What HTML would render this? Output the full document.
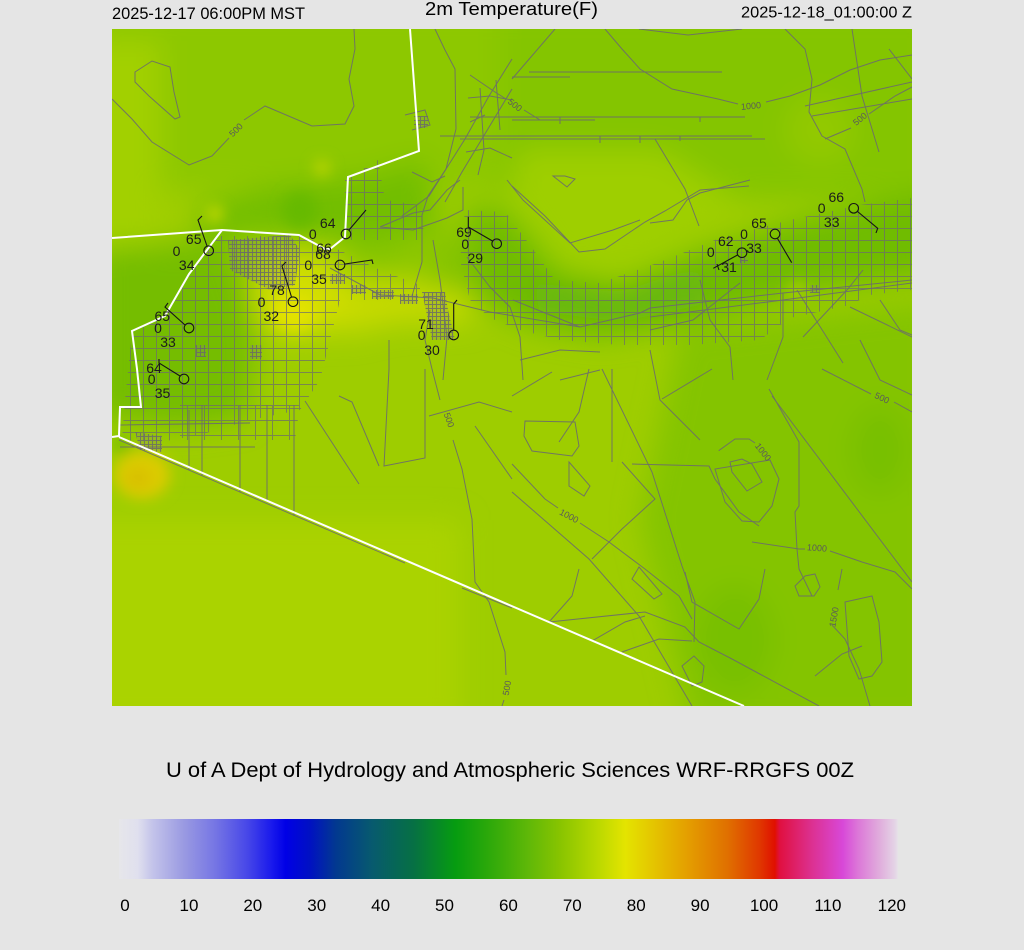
<!DOCTYPE html>
<html><head><meta charset="utf-8"><style>
html,body{margin:0;padding:0;background:#e5e5e5;}
svg{display:block;font-family:"Liberation Sans",sans-serif;}
</style></head><body>
<svg width="1024" height="950" viewBox="0 0 1024 950" xmlns="http://www.w3.org/2000/svg">
<defs>
<clipPath id="mc"><rect x="112" y="29" width="800" height="677"/></clipPath>
<filter id="bl" x="-30%" y="-30%" width="160%" height="160%"><feGaussianBlur stdDeviation="14"/></filter>
<filter id="bs" x="-50%" y="-50%" width="200%" height="200%"><feGaussianBlur stdDeviation="7"/></filter>
<pattern id="grid" width="13" height="12" patternUnits="userSpaceOnUse"><path d="M0 0.5H13M0.5 0V12" stroke="#6c6c6c" stroke-width="1" fill="none"/></pattern>
<pattern id="grid2" width="17" height="15" patternUnits="userSpaceOnUse"><path d="M0 0.5H17M0.5 0V15" stroke="#6c6c6c" stroke-width="1" fill="none"/></pattern>
<pattern id="dense" width="4" height="4" patternUnits="userSpaceOnUse"><rect width="4" height="4" fill="#808080" fill-opacity="0.25"/><path d="M0 0.5H4M0.5 0V4" stroke="#6a6a6a" stroke-width="1" fill="none"/></pattern>
<linearGradient id="cb" x1="0" x2="1" y1="0" y2="0">
<stop offset="0" stop-color="#e6e6ea"/>
<stop offset="0.024" stop-color="#e0e0ee"/>
<stop offset="0.0427" stop-color="#c4c4ea"/>
<stop offset="0.083" stop-color="#9a9ae2"/>
<stop offset="0.123" stop-color="#7676e4"/>
<stop offset="0.164" stop-color="#4848e8"/>
<stop offset="0.197" stop-color="#1818ec"/>
<stop offset="0.214" stop-color="#0000e6"/>
<stop offset="0.244" stop-color="#0010c4"/>
<stop offset="0.278" stop-color="#023890"/>
<stop offset="0.325" stop-color="#075a6e"/>
<stop offset="0.378" stop-color="#067044"/>
<stop offset="0.432" stop-color="#069c10"/>
<stop offset="0.472" stop-color="#2aa80a"/>
<stop offset="0.526" stop-color="#60b808"/>
<stop offset="0.566" stop-color="#88c400"/>
<stop offset="0.613" stop-color="#b8d800"/>
<stop offset="0.650" stop-color="#e4e400"/>
<stop offset="0.687" stop-color="#e4c400"/>
<stop offset="0.728" stop-color="#e4a000"/>
<stop offset="0.781" stop-color="#e07000"/>
<stop offset="0.822" stop-color="#e03800"/>
<stop offset="0.842" stop-color="#e01000"/>
<stop offset="0.848" stop-color="#e01040"/>
<stop offset="0.889" stop-color="#dc3090"/>
<stop offset="0.929" stop-color="#d848d8"/>
<stop offset="0.949" stop-color="#dc78d8"/>
<stop offset="0.976" stop-color="#e0acdc"/>
<stop offset="0.996" stop-color="#e4d4e6"/>
<stop offset="1" stop-color="#e6e2e8"/>
</linearGradient>
</defs>

<rect width="1024" height="950" fill="#e5e5e5"/>

<!-- header -->
<text x="112" y="19" font-size="16.5" fill="#000" textLength="193" lengthAdjust="spacingAndGlyphs">2025-12-17 06:00PM MST</text>
<text x="425" y="15" font-size="18" fill="#000" textLength="173" lengthAdjust="spacingAndGlyphs">2m Temperature(F)</text>
<text x="741" y="17.5" font-size="16" fill="#000" textLength="171" lengthAdjust="spacingAndGlyphs">2025-12-18_01:00:00 Z</text>

<!-- MAP -->
<g clip-path="url(#mc)">
<rect x="112" y="29" width="800" height="677" fill="#9ecd00"/>
<g filter="url(#bl)">
<rect x="90" y="5" width="850" height="185" fill="#8dc800"/>
<rect x="80" y="40" width="80" height="210" fill="#a2d000"/>
<rect x="500" y="5" width="440" height="195" fill="#84c500"/>
<polygon points="520,150 660,150 740,200 660,262 560,268 510,200" fill="#9ecf00"/>
<polygon points="465,205 510,212 560,272 620,285 700,250 800,220 940,188 940,275 800,292 700,322 600,338 530,326 470,296" fill="#70bc04"/>
<polygon points="530,282 620,292 700,266 700,305 620,322 540,312" fill="#66b80a"/>
<polygon points="200,205 280,185 360,178 425,160 440,232 360,242 270,234 200,236" fill="#72be00"/>
<polygon points="95,250 230,238 250,300 255,360 245,420 180,428 95,415" fill="#74bd02"/>
<ellipse cx="385" cy="255" rx="40" ry="14" fill="#84c400"/>
<ellipse cx="448" cy="262" rx="24" ry="30" fill="#86c400"/>
<polygon points="320,280 400,284 470,294 472,322 400,322 340,336" fill="#c6da00"/>
<ellipse cx="300" cy="295" rx="45" ry="42" fill="#d2de00"/>
<rect x="80" y="520" width="380" height="210" fill="#aad300"/>
<polygon points="680,330 940,300 940,730 690,730 640,520" fill="#84c400"/>
<ellipse cx="880" cy="450" rx="30" ry="45" fill="#78c000"/>
<ellipse cx="735" cy="640" rx="40" ry="55" fill="#78c000"/>
<ellipse cx="820" cy="130" rx="35" ry="35" fill="#92c900"/>
</g>
<g filter="url(#bs)">
<ellipse cx="294" cy="312" rx="22" ry="18" fill="#e2e200"/>
<ellipse cx="142" cy="475" rx="28" ry="24" fill="#dccc00"/>
<ellipse cx="138" cy="478" rx="14" ry="11" fill="#d8c000"/>
<circle cx="122" cy="445" r="9" fill="#74be00"/>
<circle cx="215" cy="214" r="8" fill="#c8da00"/>
<circle cx="322" cy="168" r="8" fill="#bcd600"/>
<circle cx="797" cy="290" r="8" fill="#aad200"/>
<circle cx="300" cy="210" r="18" fill="#66ba00"/>
</g>

<!-- grids -->
<g opacity="0.72">
<polygon points="122,440 125,400 132,332 165,316 189,274 218,236 300,236 335,248 380,270 420,285 420,300 380,300 340,300 330,340 320,380 300,410 250,420 200,435 160,442" fill="url(#grid)"/>
<polygon points="345,180 378,160 385,200 420,205 425,240 345,240" fill="url(#grid)"/>
<polygon points="465,210 505,212 530,245 555,280 600,283 660,262 720,238 790,220 860,205 912,198 912,290 870,295 850,305 790,318 760,340 690,345 620,345 560,340 520,330 490,318 470,300 460,260" fill="url(#grid)"/>
<polygon points="180,405 300,405 295,440 180,440" fill="url(#grid2)"/>
</g>
<g opacity="0.85">
<polygon points="228,240 290,235 300,250 295,285 270,290 250,280 230,270" fill="url(#dense)"/>
<rect x="330" y="274" width="15" height="10" fill="url(#dense)"/>
<rect x="352" y="285" width="14" height="9" fill="url(#dense)"/>
<rect x="372" y="290" width="22" height="9" fill="url(#dense)"/>
<rect x="400" y="294" width="18" height="10" fill="url(#dense)"/>
<polygon points="422,292 445,292 448,310 455,340 432,340 428,320" fill="url(#dense)"/>
<rect x="250" y="345" width="12" height="14" fill="url(#dense)"/>
<rect x="196" y="345" width="10" height="12" fill="url(#dense)"/>
<polygon points="135,432 162,436 162,452 140,450" fill="url(#dense)"/>
<rect x="414" y="116" width="14" height="12" fill="url(#dense)"/>
<rect x="740" y="257" width="8" height="6" fill="url(#dense)"/>
<rect x="810" y="285" width="10" height="8" fill="url(#dense)"/>
</g>

<!-- roads & contours -->
<g stroke="#6c6c6c" stroke-width="1" fill="none" opacity="0.9">
<path d="M135,72 L152,61 L170,67 L174,92 L180,117 L175,119 L149,96 L135,82 Z"/>
<path d="M112,99 L132,119 L152,142 L189,165 L212,156 L229,138 M244,120 L265,106 L312,126 L345,124 L354,106 L349,79 L355,49 L354,29"/>
<path d="M605,29 L622,49 L640,69 L672,89 L718,99 L738,104 M766,102 L790,96 L820,85 L850,70 L880,60 L912,55"/>
<path d="M470,75 L495,92 L506,99 M524,110 L540,120"/>
<path d="M825,139 L851,128 M869,114 L895,96 L912,87"/>
<path d="M822,369 L871,394 M894,402 L912,412"/>
<path d="M718.7,450.7 L735,439 L749,439 L755,443 M770,460 L779,479 L772,506 L759,522 L742,521 L725,502 L715,469 Z"/>
<path d="M730,462 L742,459 L752,464 L762,482 L747,491 L732,472 Z"/>
<path d="M512,464 L545,499 L558,508 M580,523 L609,542 L645,569 L679,596 L692,619"/>
<path d="M752,542 L799,549 L805,549 M830,551 L862,562 L895,572 L912,589"/>
<path d="M842,569 L838,590 M832,625 L845,639 L859,669 L870,706"/>
<path d="M432,369 L440,400 M453,440 L462,469 L472,519 L475,582 L489,602 L505,652 L506,675 M504,700 L502,706 M432,369 L425,340 L430,310"/>
<path d="M525,421 L575,422 L579,446 L572,456 L532,451 L524,436 Z"/>
<path d="M569,462 L590,486 L584,496 L569,486 Z"/>
<path d="M795,586 L805,576 L815,574 L820,587 L814,596 L799,596 Z"/>
<path d="M845,602 L872,596 L879,622 L882,662 L872,676 L859,679 L849,656 Z"/>
<path d="M632,579 L639,567 L662,594 L654,599 Z"/>
<path d="M685,572 L692,602 L739,629 L759,599 L765,569"/>
<path d="M682,666 L694,656 L704,666 L702,682 L692,686 Z"/>
<path d="M553,176 L567,187 L575,179 L565,176 Z"/>
<path d="M435,29 L445,50 L455,69 L456,129 L446,169 L428,196 L422,215 L422,262 L412,296"/>
<path d="M512,59 L489,96 L465,139 L429,196 L402,216"/>
<path d="M512,89 L462,172 L445,202"/>
<path d="M412,172 L432,182 L445,176 M405,115 L425,110 L430,125 L412,130"/>
<path d="M470,117 L745,117 M512,120 L595,120 M440,136 L752,136 M460,139 L765,139 M529,72 L722,72 M512,77 L570,77"/>
<path d="M600,136 L600,143 M640,136 L640,143 M680,136 L680,141 M560,117 L560,124 M700,117 L700,122"/>
<path d="M512,79 L555,29"/>
<path d="M785,29 L805,49 L812,79 L809,112 L822,136 L845,149 L862,189 L865,202"/>
<path d="M852,29 L862,96 L879,152"/>
<path d="M889,49 L912,79"/>
<path d="M805,106 L912,82 M812,116 L912,99"/>
<path d="M655,139 L685,189 L699,226"/>
<path d="M512,186 L545,216 L579,252 L605,249 L645,222 L665,211 L700,190 L749,186"/>
<path d="M639,29 L688,35 L742,29"/>
<path d="M380,227 L413,230 L447,218 L463,210 L463,187"/>
<path d="M380,227 L413,213 L430,210 L447,190 L460,180"/>
<path d="M330,268 L380,295 L433,298 L490,312 L580,327 L640,313 L650,308 L783,293 L912,280"/>
<path d="M513,300 L580,327 M650,317 L783,300 L912,283"/>
<path d="M650,330 L693,320 L740,283"/>
<path d="M467,257 L490,287 L510,307 L520,337 L523,380"/>
<path d="M433,240 L440,280 L447,337 L443,380"/>
<path d="M507,180 L523,200 L570,243 L613,230 L640,220"/>
<path d="M650,223 L673,220 L687,200 L700,193 L750,180"/>
<path d="M863,270 L847,290 L803,337"/>
<path d="M797,290 L843,363"/>
<path d="M850,307 L912,337"/>
<path d="M783,293 L783,337 L767,380"/>
<path d="M700,280 L710,320 L730,347 L733,380"/>
<path d="M389,340 L389,369 L384,466 L425,458 L425,369"/>
<path d="M305,401 L359,484"/>
<path d="M339,396 L352,402 L379,466"/>
<path d="M429,416 L479,402 L512,412"/>
<path d="M475,426 L512,479"/>
<path d="M189,410 L189,470 M202,405 L202,476 M240,405 L240,492 M267,405 L267,502 M294,405 L294,516"/>
<path d="M120,447 L255,447 M120,425 L250,423"/>
<path d="M119,440 L405,563 M462,588 L512,608"/>
<path d="M512,492 L589,559 L639,616 L692,706"/>
<path d="M602,369 L652,472 L682,566 L695,602 L694,642"/>
<path d="M612,369 L612,462"/>
<path d="M632,464 L709,466 L715,479 L739,512 L759,526"/>
<path d="M769,389 L799,442 L799,506 L795,512 L797,549 L799,569 L812,596"/>
<path d="M772,396 L912,582"/>
<path d="M549,622 L645,612 L685,627 L699,642 L732,659 L819,706"/>
<path d="M592,641 L625,622 L645,616"/>
<path d="M622,652 L659,639 L692,641"/>
<path d="M512,396 L552,372 M662,399 L712,369"/>
<path d="M589,369 L579,412 L559,442"/>
<path d="M622,462 L655,499 L622,529 L592,559"/>
<path d="M579,569 L572,596 L549,622"/>
<path d="M815,676 L842,654 L862,646"/>
<path d="M468,98 L490,96 L512,100 M470,122 L485,115 M480,88 L484,150 L478,175 M496,80 L500,130 M466,152 L490,148 L512,158"/>
<path d="M520,360 L560,350 L600,352 M560,380 L600,370 M650,350 L660,400 L700,440"/>
<path d="M860,340 L880,380 L912,395 M880,300 L900,330 L912,335"/>
</g>
<g font-size="9" fill="#5a5a5a">
<text x="236" y="133" text-anchor="middle" transform="rotate(-45 236 130)">500</text>
<text x="751" y="109" text-anchor="middle" transform="rotate(-5 751 106)">1000</text>
<text x="515" y="108" text-anchor="middle" transform="rotate(38 515 105)">500</text>
<text x="860" y="122" text-anchor="middle" transform="rotate(-40 860 119)">500</text>
<text x="882" y="401" text-anchor="middle" transform="rotate(25 882 398)">500</text>
<text x="763" y="455" text-anchor="middle" transform="rotate(52 763 452)">1000</text>
<text x="569" y="519" text-anchor="middle" transform="rotate(28 569 516)">1000</text>
<text x="817" y="551" text-anchor="middle" transform="rotate(4 817 548)">1000</text>
<text x="834" y="620" text-anchor="middle" transform="rotate(-80 834 617)">1500</text>
<text x="449" y="423" text-anchor="middle" transform="rotate(70 449 420)">500</text>
<text x="507" y="691" text-anchor="middle" transform="rotate(-80 507 688)">500</text>
</g>

<!-- borders -->
<g stroke="#ffffff" stroke-width="2" fill="none">
<path d="M410,29 L419,151 L348,177 L345,237 L330,249 L325,249 L299,235 L222,230 L112,238"/>
<path d="M222,230 L189,274 L165,316 L132,331 L137,369 L141,407 L120,407 L119,436 L112,437"/>
<path d="M119,437 L744,706"/>
</g>

<!-- stations -->
<g stroke="#151515" stroke-width="1.1" fill="none">
<circle cx="208.7" cy="250.7" r="4.8"/><path d="M207,246 L198,220 L202,216"/>
<circle cx="346" cy="234" r="4.8"/><path d="M349,230 L366,210"/>
<circle cx="340" cy="265" r="4.8"/><path d="M345,264 L372,260 L373,264"/>
<circle cx="293" cy="301.7" r="4.8"/><path d="M291.5,297 L282,266 L286,262"/>
<circle cx="189" cy="328" r="4.8"/><path d="M185,325 L165,307 L168,303"/>
<circle cx="184" cy="379" r="4.8"/><path d="M180,376 L159,363 L159,359"/>
<circle cx="453.7" cy="335" r="4.8"/><path d="M453.7,330 L453.7,304 L457,300"/>
<circle cx="496.7" cy="243.7" r="4.8"/><path d="M492.5,241 L468.3,227 L468.3,216.7"/>
<circle cx="742" cy="252.7" r="4.8"/><path d="M737.5,255 L713.3,268.3 M717,264 L719,270"/>
<circle cx="775" cy="234" r="4.8"/><path d="M777.5,238.5 L791.7,262.7"/>
<circle cx="853.7" cy="208.3" r="4.8"/><path d="M857.5,211.5 L877.7,228.3 L876,233"/>
</g>
<g font-size="14" fill="#1c1c1c" text-anchor="middle">
<text x="193.7" y="244">65</text><text x="176.5" y="256">0</text><text x="186.7" y="270">34</text>
<text x="327.7" y="228">64</text><text x="312.8" y="239">0</text>
<text x="324" y="253">66</text><text x="323" y="259">68</text><text x="308.3" y="270">0</text><text x="319" y="284">35</text>
<text x="277" y="295">78</text><text x="261.5" y="307">0</text><text x="271.3" y="321">32</text>
<text x="162.3" y="321">65</text><text x="158" y="333">0</text><text x="168" y="347">33</text>
<text x="154" y="373">64</text><text x="151.7" y="384">0</text><text x="162.5" y="398">35</text>
<text x="426" y="329">71</text><text x="421.7" y="340">0</text><text x="432" y="355">30</text>
<text x="464" y="237">69</text><text x="465.3" y="249">0</text><text x="475.3" y="263">29</text>
<text x="725.8" y="246">62</text><text x="710.8" y="257">0</text><text x="729" y="272">31</text>
<text x="759" y="228">65</text><text x="744" y="239">0</text><text x="754" y="253">33</text>
<text x="836.3" y="202">66</text><text x="821.7" y="213">0</text><text x="831.7" y="227">33</text>
</g>
</g>

<!-- subtitle -->
<text x="166" y="777" font-size="21.5" fill="#000" textLength="688" lengthAdjust="spacingAndGlyphs">U of A Dept of Hydrology and Atmospheric Sciences WRF-RRGFS 00Z</text>

<!-- colorbar -->
<rect x="119" y="819" width="779" height="60" fill="url(#cb)"/>
<g font-size="17" fill="#000" text-anchor="middle">
<text x="125" y="911">0</text>
<text x="189" y="911">10</text>
<text x="252.8" y="911">20</text>
<text x="316.7" y="911">30</text>
<text x="380.6" y="911">40</text>
<text x="444.5" y="911">50</text>
<text x="508.4" y="911">60</text>
<text x="572.3" y="911">70</text>
<text x="636.2" y="911">80</text>
<text x="700.1" y="911">90</text>
<text x="764" y="911">100</text>
<text x="827.9" y="911">110</text>
<text x="891.8" y="911">120</text>
</g>
</svg>
</body></html>
